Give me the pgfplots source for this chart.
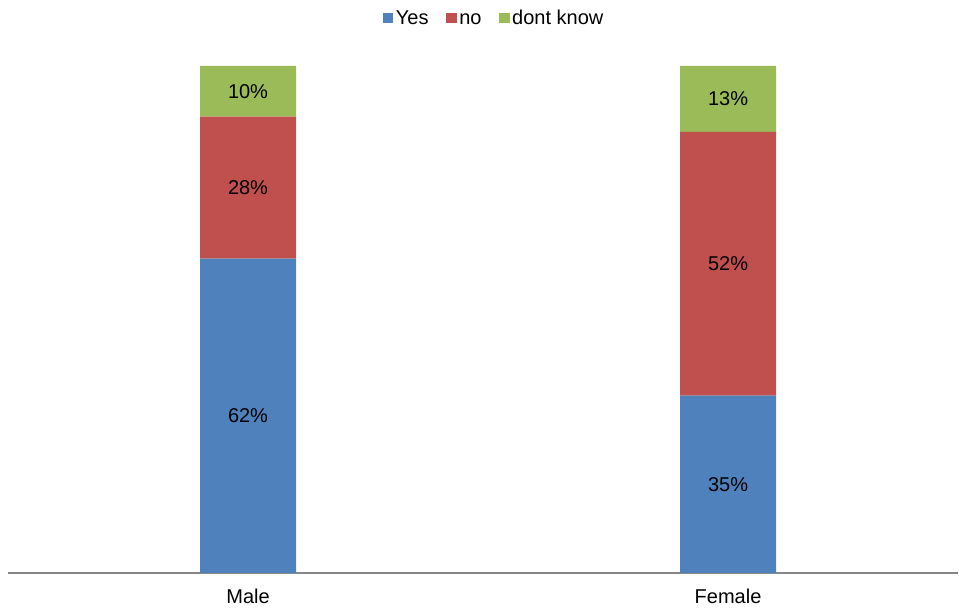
\documentclass[border=0pt]{standalone}
\usepackage{fontspec}
\setmainfont{Liberation Sans}
\usepackage{pgfplots}
\pgfplotsset{compat=1.18}
\definecolor{cBlue}{HTML}{4F81BD}
\definecolor{cRed}{HTML}{C0504D}
\definecolor{cGreen}{HTML}{9BBB59}
\definecolor{cAxis}{HTML}{868686}
\begin{document}
\begin{tikzpicture}[font=\fontsize{20}{24}\selectfont]
\useasboundingbox (-8pt,-40pt) rectangle (951pt,573pt);
\begin{axis}[
  at={(0pt,0pt)}, anchor=south west,
  scale only axis,
  width=950pt, height=507pt,
  ybar stacked,
  bar width=96pt,
  xmin=-0.5, xmax=1.479,
  ymin=0, ymax=100,
  axis x line*=bottom,
  axis y line=none,
  x axis line style={draw=cAxis, line width=1.4pt, -},
  xtick=data,
  xticklabels={Male,Female},
  major tick length=0pt,
  xticklabel style={font=\fontsize{20}{24}\selectfont, yshift=-12pt},
  /pgf/number format/assume math mode=true,
  nodes near coords={\pgfmathprintnumber{\pgfplotspointmeta}\%},
  every node near coord/.append style={anchor=center, font=\fontsize{20}{24}\selectfont, text=black},
  legend columns=3,
  legend style={draw=none, fill=none, at={(0.512,1.094)}, anchor=center,
    font=\fontsize{20}{24}\selectfont,
    /tikz/every even column/.append style={column sep=15pt, text height=14pt, text depth=4pt},
    nodes={inner sep=2.6pt}},
  legend image code/.code={\fill[#1] (0pt,-5pt) rectangle (10.5pt,5.5pt);},
]
\addplot[fill=cBlue, draw=none] coordinates {(0,62) (1,35)};
\addplot[fill=cRed, draw=none] coordinates {(0,28) (1,52)};
\addplot[fill=cGreen, draw=none] coordinates {(0,10) (1,13)};
\legend{Yes,no,dont know}
\end{axis}
\end{tikzpicture}
\end{document}
